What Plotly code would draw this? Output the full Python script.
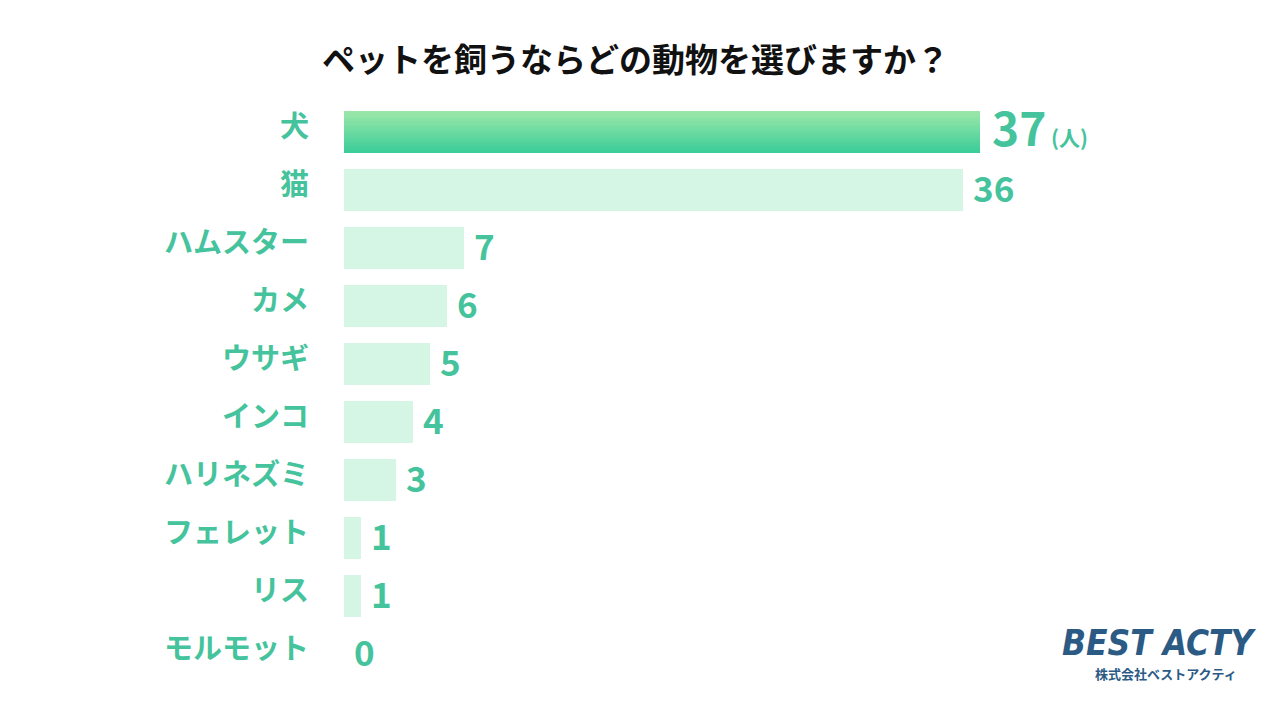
import plotly.graph_objects as go

categories = ["犬", "猫", "ハムスター", "カメ", "ウサギ", "インコ", "ハリネズミ", "フェレット", "リス", "モルモット"]
values = [37, 36, 7, 6, 5, 4, 3, 1, 1, 0]
title_text = "ペットを飼うならどの動物を選びますか？"
unit_text = "(人)"

FONT = "Noto Sans CJK JP"
TEAL = "#45c39c"
LIGHT = "#d6f6e5"
BAR_W = 0.72

L, R, T, B = 344, 76, 103, 37
PW, PH = 1280 - L - R, 720 - T - B

def px(x):
    return (x - L) / PW

def py(y):
    return (720 - B - y) / PH

fig = go.Figure()

fig.add_trace(go.Bar(
    y=categories[1:], x=values[1:], orientation="h",
    marker=dict(color=LIGHT, line=dict(width=0)),
    width=BAR_W, hoverinfo="skip", showlegend=False,
))

top_c = (0x9e, 0xe8, 0xa8)
bot_c = (0x3a, 0xcc, 0x9a)
n = 24
for i in range(n):
    t = (i + 0.5) / n
    c = tuple(round(top_c[k] + (bot_c[k] - top_c[k]) * t) for k in range(3))
    fig.add_trace(go.Bar(
        y=[categories[0]], x=[values[0]], orientation="h",
        marker=dict(color="rgb(%d,%d,%d)" % c, line=dict(width=0)),
        width=BAR_W / n + 0.002, offset=-BAR_W / 2 + i * BAR_W / n,
        hoverinfo="skip", showlegend=False,
    ))

for i, (cat, v) in enumerate(zip(categories, values)):
    if i == 0:
        txt = "%d<span style='font-size:21px'> %s</span>" % (v, unit_text)
        fs = 46
        xs = 10
        ys = 6
    else:
        txt = str(v)
        fs = 35
        xs = 8
        ys = 4
    fig.add_annotation(x=v, y=cat, text=txt, showarrow=False, xanchor="left",
                       xshift=xs, yshift=ys,
                       font=dict(family=FONT, size=fs, color=TEAL, weight="bold"))

fig.add_annotation(xref="paper", yref="paper", x=px(635), y=py(58),
                   xanchor="center", yanchor="middle", showarrow=False,
                   text=title_text,
                   font=dict(family=FONT, size=33, color="#111111", weight="bold"))

fig.add_annotation(xref="paper", yref="paper", x=px(1259), y=py(643),
                   xanchor="right", yanchor="middle", showarrow=False,
                   text="<i>BEST ACTY</i>",
                   font=dict(family="DejaVu Sans Condensed, Liberation Sans, sans-serif",
                             size=35, color="#2b5a85", weight="bold"))
fig.add_annotation(xref="paper", yref="paper", x=px(1166), y=py(673),
                   xanchor="center", yanchor="middle", showarrow=False,
                   text="株式会社ベストアクティ",
                   font=dict(family=FONT, size=13, color="#2b5a85", weight="bold"))

fig.update_layout(
    width=1280, height=720,
    margin=dict(l=L, r=R, t=T, b=B),
    paper_bgcolor="white", plot_bgcolor="white",
    barmode="overlay", bargap=0,
    font=dict(family=FONT),
    xaxis=dict(range=[0, 50], visible=False, fixedrange=True),
    yaxis=dict(categoryorder="array", categoryarray=categories, range=[9.5, -0.5],
               showgrid=False, zeroline=False, showline=False, ticks="",
               ticklabelstandoff=34, ticklabelshift=5, automargin=False, fixedrange=True,
               tickfont=dict(family=FONT, size=29, color=TEAL, weight="bold")),
)

fig.write_html("out.html", config={"displayModeBar": False},
               post_script="document.body.style.margin='0';document.body.style.overflow='hidden';")
